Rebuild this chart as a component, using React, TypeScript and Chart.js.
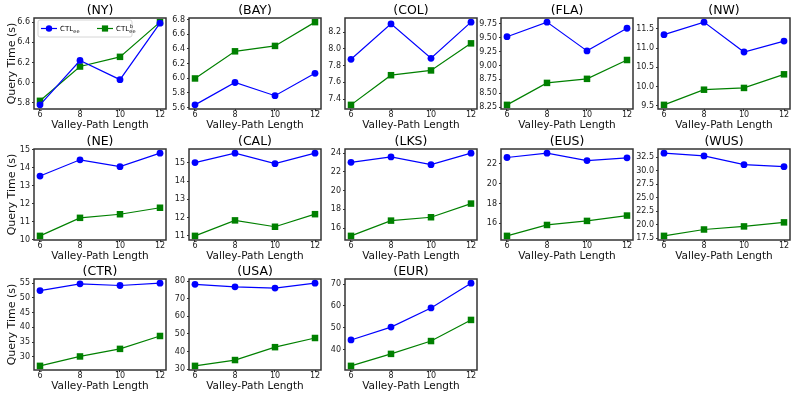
import React, { useEffect, useRef } from "react";
import { Chart, registerables } from "chart.js";

Chart.register(...registerables);
Chart.defaults.font.family = "'DejaVu Sans', sans-serif";

// Valley-path lengths on the x axis
const pathLengths = [6, 8, 10, 12];
const xTickValues = [6, 8, 10, 12];

// Query time (s) per road network: CTL_ee (blue) and CTL^b_ee (green)
const nyCTL = [5.78, 6.22, 6.03, 6.59];
const nyCTLb = [5.82, 6.16, 6.256, 6.6];
const bayCTL = [5.636, 5.942, 5.761, 6.067];
const bayCTLb = [5.997, 6.368, 6.442, 6.767];
const colCTL = [7.876, 8.3, 7.888, 8.321];
const colCTLb = [7.331, 7.686, 7.743, 8.067];
const flaCTL = [9.518, 9.78, 9.263, 9.67];
const flaCTLb = [8.292, 8.687, 8.76, 9.099];
const nwCTL = [11.35, 11.676, 10.9, 11.184];
const nwCTLb = [9.526, 9.92, 9.966, 10.32];
const neCTL = [13.54, 14.44, 14.06, 14.81];
const neCTLb = [10.22, 11.22, 11.42, 11.78];
const calCTL = [15.02, 15.54, 14.96, 15.54];
const calCTLb = [11.0, 11.85, 11.5, 12.19];
const lksCTL = [23.02, 23.6, 22.77, 24.0];
const lksCTLb = [15.16, 16.79, 17.15, 18.61];
const eusCTL = [22.65, 23.09, 22.34, 22.62];
const eusCTLb = [14.74, 15.84, 16.25, 16.79];
const wusCTL = [33.25, 32.74, 31.11, 30.74];
const wusCTLb = [17.93, 19.11, 19.68, 20.43];
const ctrCTL = [52.47, 54.76, 54.2, 55.0];
const ctrCTLb = [26.9, 30.1, 32.67, 37.05];
const usaCTL = [78.1, 76.7, 76.0, 78.8];
const usaCTLb = [31.9, 35.2, 42.5, 47.7];
const eurCTL = [44.4, 50.3, 59.1, 70.5];
const eurCTLb = [32.5, 38.0, 43.9, 53.6];

// y tick labels per panel
const nyTicks = ["5.8", "6.0", "6.2", "6.4", "6.6"];
const bayTicks = ["5.6", "5.8", "6.0", "6.2", "6.4", "6.6", "6.8"];
const colTicks = ["7.4", "7.6", "7.8", "8.0", "8.2"];
const flaTicks = ["8.25", "8.50", "8.75", "9.00", "9.25", "9.50", "9.75"];
const nwTicks = ["9.5", "10.0", "10.5", "11.0", "11.5"];
const neTicks = ["10", "11", "12", "13", "14", "15"];
const calTicks = ["11", "12", "13", "14", "15"];
const lksTicks = ["16", "18", "20", "22", "24"];
const eusTicks = ["16", "18", "20", "22"];
const wusTicks = ["17.5", "20.0", "22.5", "25.0", "27.5", "30.0", "32.5"];
const ctrTicks = ["30", "35", "40", "45", "50", "55"];
const usaTicks = ["30", "40", "50", "60", "70", "80"];
const eurTicks = ["40", "50", "60", "70"];

const networks = ["NY", "BAY", "COL", "FLA", "NW", "NE", "CAL", "LKS", "EUS", "WUS", "CTR", "USA", "EUR"];
const ctlSeries = [nyCTL, bayCTL, colCTL, flaCTL, nwCTL, neCTL, calCTL, lksCTL, eusCTL, wusCTL, ctrCTL, usaCTL, eurCTL];
const ctlbSeries = [nyCTLb, bayCTLb, colCTLb, flaCTLb, nwCTLb, neCTLb, calCTLb, lksCTLb, eusCTLb, wusCTLb, ctrCTLb, usaCTLb, eurCTLb];
const tickSets = [nyTicks, bayTicks, colTicks, flaTicks, nwTicks, neTicks, calTicks, lksTicks, eusTicks, wusTicks, ctrTicks, usaTicks, eurTicks];

// grid layout (pixels)
const PLOT_LEFT = [34, 189, 345, 501, 658];
const PLOT_TOP = [18, 149, 279];
const PLOT_W = 132;
const PLOT_H = 91;
const TITLE_H = 14;
const XAXIS_H = 22;
const RIGHT_PAD = 8;
const COLS = 5;

const BLUE = "#0000ff";
const GREEN = "#008000";
const SPINE = "#333333";

const framePlugin = {
  id: "frame",
  afterDraw(chart: any) {
    const { ctx, chartArea: a } = chart;
    ctx.save();
    ctx.strokeStyle = SPINE;
    ctx.lineWidth = 1.5;
    ctx.strokeRect(a.left, a.top, a.right - a.left, a.bottom - a.top);
    ctx.restore();
  },
};

const cornerLegend = {
  id: "cornerLegend",
  afterDraw(chart: any) {
    const { ctx, chartArea: a } = chart;
    const x0 = a.left + 4;
    const y0 = a.top + 2;
    const w = 94;
    const h = 17;
    ctx.save();
    ctx.beginPath();
    ctx.roundRect(x0, y0, w, h, 2);
    ctx.fillStyle = "rgba(255,255,255,0.85)";
    ctx.fill();
    ctx.strokeStyle = "#cccccc";
    ctx.lineWidth = 0.8;
    ctx.stroke();
    const cy = y0 + h / 2;
    chart.data.datasets.forEach((ds: any, i: number) => {
      const lx = x0 + 3 + i * 56;
      ctx.strokeStyle = ds.borderColor;
      ctx.lineWidth = 1.2;
      ctx.beginPath();
      ctx.moveTo(lx, cy);
      ctx.lineTo(lx + 16, cy);
      ctx.stroke();
      ctx.fillStyle = ds.backgroundColor;
      if (i === 0) {
        ctx.beginPath();
        ctx.arc(lx + 8, cy, 3.2, 0, Math.PI * 2);
        ctx.fill();
      } else {
        ctx.fillRect(lx + 8 - 3.1, cy - 3.1, 6.2, 6.2);
      }
      ctx.fillStyle = "#000";
      ctx.textAlign = "left";
      ctx.textBaseline = "alphabetic";
      ctx.font = "7px 'DejaVu Sans'";
      const tx = lx + 19;
      ctx.fillText("CTL", tx, cy + 2.6);
      const tw = ctx.measureText("CTL").width;
      ctx.font = "5px 'DejaVu Sans'";
      ctx.fillText("ee", tx + tw + 0.3, cy + 4);
      if (i === 1) ctx.fillText("b", tx + tw + 0.6, cy - 0.6);
    });
    ctx.restore();
  },
};

function buildConfig(idx: number): any {
  const ctl = ctlSeries[idx];
  const ctlb = ctlbSeries[idx];
  const ticks = tickSets[idx];
  const col = idx % COLS;
  const yAxisW = col === 0 ? 34 : 30;
  const all = [...ctl, ...ctlb];
  const lo = Math.min(...all);
  const hi = Math.max(...all);
  const margin = (hi - lo) * 0.05;
  const xLo = pathLengths[0] - (pathLengths[3] - pathLengths[0]) * 0.05;
  const xHi = pathLengths[3] + (pathLengths[3] - pathLengths[0]) * 0.05;

  return {
    type: "line",
    data: {
      datasets: [
        {
          label: "CTLee",
          data: pathLengths.map((x, i) => ({ x, y: ctl[i] })),
          borderColor: BLUE,
          backgroundColor: BLUE,
          borderWidth: 1.2,
          pointStyle: "circle",
          pointRadius: 3.4,
          pointBorderWidth: 0,
          tension: 0,
        },
        {
          label: "CTLbee",
          data: pathLengths.map((x, i) => ({ x, y: ctlb[i] })),
          borderColor: GREEN,
          backgroundColor: GREEN,
          borderWidth: 1.2,
          pointStyle: "rect",
          pointRadius: 4.6,
          pointBorderWidth: 0,
          tension: 0,
        },
      ],
    },
    options: {
      animation: false,
      responsive: false,
      maintainAspectRatio: false,
      layout: { padding: { left: 0, right: RIGHT_PAD, top: 0, bottom: 0 } },
      plugins: {
        legend: { display: false },
        tooltip: { enabled: false },
        title: {
          display: true,
          fullSize: false,
          text: `(${networks[idx]})`,
          color: "#000",
          font: { size: 12.5, weight: "normal", lineHeight: "14px" },
          padding: 0,
        },
      },
      scales: {
        x: {
          type: "linear",
          bounds: "data",
          min: xLo,
          max: xHi,
          afterBuildTicks: (s: any) => {
            s.ticks = xTickValues.map((v) => ({ value: v }));
          },
          afterFit: (s: any) => {
            s.height = XAXIS_H;
          },
          grid: { display: true, drawOnChartArea: false, drawTicks: true, tickLength: 2, color: SPINE },
          border: { display: false },
          ticks: {
            autoSkip: false,
            maxRotation: 0,
            padding: 0,
            color: "#222",
            font: { size: 8, lineHeight: 1 },
            callback: (v: any) => String(v),
          },
          title: {
            display: true,
            text: "Valley-Path Length",
            color: "#111",
            font: { size: 10.5, lineHeight: "12px" },
            padding: 0,
          },
        },
        y: {
          type: "linear",
          bounds: "data",
          min: lo - margin,
          max: hi + margin,
          afterBuildTicks: (s: any) => {
            s.ticks = ticks.map((t) => ({ value: Number(t) }));
          },
          afterFit: (s: any) => {
            s.width = yAxisW;
          },
          grid: { display: true, drawOnChartArea: false, drawTicks: true, tickLength: 2, color: SPINE },
          border: { display: false },
          ticks: {
            autoSkip: false,
            padding: 2,
            color: "#222",
            font: { size: 8 },
            callback: (_v: any, i: number) => ticks[i],
          },
          title: {
            display: col === 0,
            text: "Query Time (s)",
            color: "#111",
            font: { size: 11, lineHeight: "12px" },
            padding: { top: 6, bottom: 0 },
          },
        },
      },
    },
    plugins: idx === 0 ? [framePlugin, cornerLegend] : [framePlugin],
  };
}

function Panel({ idx }: { idx: number }) {
  const ref = useRef<HTMLCanvasElement>(null);
  const col = idx % COLS;
  const row = Math.floor(idx / COLS);
  const yAxisW = col === 0 ? 34 : 30;
  const width = yAxisW + PLOT_W + RIGHT_PAD;
  const height = TITLE_H + PLOT_H + XAXIS_H;

  useEffect(() => {
    const chart = new Chart(ref.current as HTMLCanvasElement, buildConfig(idx));
    return () => chart.destroy();
  }, [idx]);

  return (
    <canvas
      ref={ref}
      width={width}
      height={height}
      style={{
        position: "absolute",
        left: PLOT_LEFT[col] - yAxisW,
        top: PLOT_TOP[row] - TITLE_H,
        width,
        height,
      }}
    />
  );
}

export default function App() {
  return (
    <div
      style={{
        position: "fixed",
        left: 0,
        top: 0,
        width: 796,
        height: 399,
        background: "#ffffff",
        overflow: "hidden",
      }}
    >
      {networks.map((_, i) => (
        <Panel key={i} idx={i} />
      ))}
    </div>
  );
}
